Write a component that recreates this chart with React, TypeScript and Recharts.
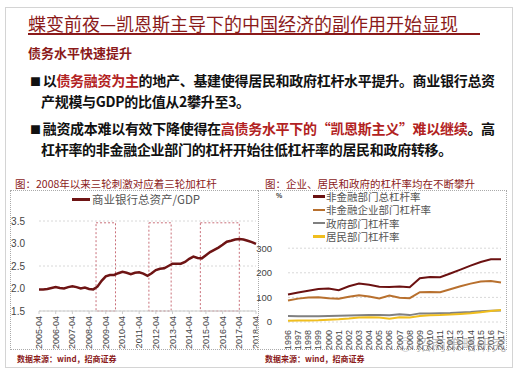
import { LineChart, Line, XAxis, YAxis, CartesianGrid, ReferenceArea, Legend } from "recharts";

// 左图：商业银行总资产/GDP（季度）
const quarters = [
  "2005-04", "2005-07", "2005-10", "2006-01", "2006-04", "2006-07", "2006-10", "2007-01", "2007-04", "2007-07", "2007-10", "2008-01", "2008-04",
  "2008-07", "2008-10", "2009-01", "2009-04", "2009-07", "2009-10", "2010-01", "2010-04", "2010-07", "2010-10", "2011-01", "2011-04", "2011-07",
  "2011-10", "2012-01", "2012-04", "2012-07", "2012-10", "2013-01", "2013-04", "2013-07", "2013-10", "2014-01", "2014-04", "2014-07", "2014-10",
  "2015-01", "2015-04", "2015-07", "2015-10", "2016-01", "2016-04", "2016-07", "2016-10", "2017-01", "2017-04", "2017-07", "2017-10", "2018-01", "2018-04",
];
const assetToGdp = [
  1.98, 1.98, 1.99, 2.01, 2.03, 2.01, 2.0, 2.03, 2.05, 2.03, 2.0, 2.02, 1.99,
  1.98, 2.04, 2.17, 2.27, 2.3, 2.3, 2.34, 2.37, 2.35, 2.32, 2.35, 2.36, 2.33,
  2.28, 2.34, 2.41, 2.44, 2.45, 2.5, 2.55, 2.55, 2.55, 2.59, 2.66, 2.71, 2.68,
  2.67, 2.74, 2.81, 2.86, 2.91, 2.97, 3.04, 3.06, 3.09, 3.1, 3.09, 3.06, 3.03, 2.99,
];
const leftTicks = ["2005-04", "2006-04", "2007-04", "2008-04", "2009-04", "2010-04", "2011-04", "2012-04", "2013-04", "2014-04", "2015-04", "2016-04", "2017-04", "2018-04"];
const leftYTicks = [1.5, 2.0, 2.5, 3.0, 3.5];
// 三轮刺激区间
const stimulusStart = ["2008-09", "2011-11", "2014-12"];
const stimulusEnd = ["2009-11", "2013-03", "2017-04"];
const stimulusTop = 3.46;

// 右图：杠杆率（年度，%）
const years = [1996, 1997, 1998, 1999, 2000, 2001, 2002, 2003, 2004, 2005, 2006, 2007, 2008, 2009, 2010, 2011, 2012, 2013, 2014, 2015, 2016, 2017];
const totalLev = [112, 120, 127, 134, 136, 129, 145, 156, 151, 143, 142, 144, 141, 178, 183, 182, 197, 213, 229, 244, 255, 255];
const corpLev = [87, 95, 100, 101, 97, 95, 103, 109, 104, 96, 108, 99, 97, 121, 122, 121, 133, 145, 156, 165, 167, 161];
const govLev = [24, 23, 23, 23, 24, 25, 26, 27, 28, 28, 27, 31, 28, 35, 35, 36, 37, 39, 41, 44, 46, 47];
const houseLev = [5, 6, 6, 7, 9, 11, 14, 18, 19, 18, 13, 19, 18, 24, 27, 28, 30, 33, 36, 40, 45, 49];
const rightYTicks = [0, 50, 100, 150, 200, 250, 300];

const toNum = (s: string) => {
  const [y, m] = s.split("-").map(Number);
  return y + (m - 1) / 12;
};
const toLabel = (v: number) => {
  const y = Math.floor(v + 1e-6);
  const m = Math.round((v - y) * 12) + 1;
  return `${y}-${String(m).padStart(2, "0")}`;
};

const leftData = quarters.map((q, i) => ({ t: toNum(q), v: assetToGdp[i] }));
const rightData = years.map((y, i) => ({
  year: y,
  total: totalLev[i],
  corp: corpLev[i],
  gov: govLev[i],
  house: houseLev[i],
}));

const CJK = '"Noto Sans CJK SC", sans-serif';
const NUM = '"Liberation Sans", Arial, sans-serif';
const DARK_RED = "#8B1A1A";

const VTick = (props: any) => {
  const { x, y, payload, fmt } = props;
  return (
    <g transform={`translate(${x},${y})`}>
      <text x={0} y={0} dy={3} transform="rotate(-90)" textAnchor="end" fontSize={9} fill="#444" fontFamily={NUM}>
        {fmt(payload.value)}
      </text>
    </g>
  );
};

const LeftLegend = () => (
  <div style={{ display: "flex", alignItems: "center", fontFamily: CJK, fontSize: 11.5, color: "#555", lineHeight: "14px" }}>
    <span style={{ display: "inline-block", width: 18, height: 3, background: "#6E1414", marginRight: 2 }} />
    商业银行总资产/GDP
  </div>
);

const rightSeries = [
  { key: "total", name: "非金融部门总杠杆率", color: "#6B1111" },
  { key: "corp", name: "非金融企业部门杠杆率", color: "#B8702E" },
  { key: "gov", name: "政府部门杠杆率", color: "#808080" },
  { key: "house", name: "居民部门杠杆率", color: "#F0BE1E" },
];

const RightLegend = () => (
  <div style={{ fontFamily: CJK, fontSize: 10.5, color: "#555" }}>
    {rightSeries.map((s) => (
      <div key={s.key} style={{ display: "flex", alignItems: "center", height: 13.3, lineHeight: "13px" }}>
        <span style={{ display: "inline-block", width: 12, height: 2.5, background: s.color, marginRight: 1 }} />
        {s.name}
      </div>
    ))}
  </div>
);

const abs = (left: number, top: number, extra: any = {}) => ({ position: "absolute" as const, left, top, ...extra });

export default function App() {
  return (
    <div style={{ position: "absolute", left: 0, top: 0, width: 519, height: 373, background: "#fff", overflow: "hidden" }}>
      {/* 外框 */}
      <div style={abs(5, 7, { width: 506, height: 359, border: "1px solid #d4d4d4" })} />

      {/* 标题 */}
      <div style={abs(28, 11, { fontFamily: CJK, fontSize: 18, color: DARK_RED, lineHeight: "24px", whiteSpace: "nowrap" })}>
        蝶变前夜—凯恩斯主导下的中国经济的副作用开始显现
      </div>
      <div style={abs(28, 33, { width: 452, height: 1.5, background: DARK_RED })} />
      <div style={abs(28, 44, { fontFamily: CJK, fontSize: 13, fontWeight: 700, color: DARK_RED, lineHeight: "18px" })}>
        债务水平快速提升
      </div>

      {/* 要点 */}
      <div style={abs(30, 70, { fontFamily: CJK, fontSize: 14, fontWeight: 700, color: "#111", lineHeight: "20px", letterSpacing: -0.3, whiteSpace: "nowrap" })}>
        <div>
          <span style={{ fontSize: 11, marginRight: 2 }}>■</span>以<span style={{ color: "#B22222" }}>债务融资为主</span>的地产、基建使得居民和政府杠杆水平提升。商业银行总资
        </div>
        <div style={{ paddingLeft: 11 }}>产规模与GDP的比值从2攀升至3。</div>
        <div style={{ marginTop: 7 }}>
          <span style={{ fontSize: 11, marginRight: 2 }}>■</span>融资成本难以有效下降使得在<span style={{ color: "#B22222" }}>高债务水平下的“凯恩斯主义”难以继续</span>。高
        </div>
        <div style={{ paddingLeft: 11 }}>杠杆率的非金融企业部门的杠杆开始往低杠杆率的居民和政府转移。</div>
      </div>

      {/* 图标题 */}
      <div style={abs(15, 177, { fontFamily: CJK, fontSize: 10.5, color: DARK_RED, lineHeight: "13px", whiteSpace: "nowrap" })}>
        图：2008年以来三轮刺激对应着三轮加杠杆
      </div>
      <div style={abs(265, 177, { fontFamily: CJK, fontSize: 10.5, color: DARK_RED, lineHeight: "13px", whiteSpace: "nowrap" })}>
        图：企业、居民和政府的杠杆率均在不断攀升
      </div>

      {/* 图框 */}
      <div style={abs(10, 190, { width: 248, height: 160, borderTop: "1px dotted #aaa", borderLeft: "1px dotted #aaa", borderBottom: "1px dotted #aaa", boxSizing: "border-box" })} />
      <div style={abs(258, 190, { width: 249, height: 160, border: "1px dotted #aaa", boxSizing: "border-box" })} />

      {/* 左图 */}
      <div style={abs(10, 190)}>
        <LineChart width={248} height={161} data={leftData} margin={{ top: 17, right: 2, left: 0, bottom: 0 }}>
          <CartesianGrid vertical={false} stroke="#d8d8d8" strokeDasharray="2 2" />
          <XAxis
            dataKey="t"
            type="number"
            domain={[toNum(leftTicks[0]), toNum(leftTicks[leftTicks.length - 1])]}
            ticks={leftTicks.map(toNum)}
            interval={0}
            height={40}
            stroke="#ccc"
            tickSize={3}
            tick={<VTick fmt={toLabel} />}
          />
          <YAxis
            type="number"
            domain={[1.5, 3.5]}
            ticks={leftYTicks}
            width={29}
            axisLine={false}
            tickLine={false}
            tickMargin={8}
            tick={{ fontSize: 10, fill: "#444", fontFamily: NUM }}
            tickFormatter={(v: number) => v.toFixed(1)}
          />
          {stimulusStart.map((s, i) => (
            <ReferenceArea
              key={s}
              x1={toNum(s)}
              x2={toNum(stimulusEnd[i])}
              y1={1.5}
              y2={stimulusTop}
              fill="none"
              stroke="#C9707A"
              strokeDasharray="2 2"
              ifOverflow="visible"
            />
          ))}
          <Legend verticalAlign="top" content={<LeftLegend />} wrapperStyle={{ top: 2, left: 62, width: "auto" }} />
          <Line type="linear" dataKey="v" stroke="#6E1414" strokeWidth={2.5} dot={false} isAnimationActive={false} />
        </LineChart>
      </div>

      {/* 右图 */}
      <div style={abs(255, 190)}>
        <LineChart width={252} height={161} data={rightData} margin={{ top: 5, right: 6, left: 0, bottom: 0 }}>
          <CartesianGrid vertical={false} stroke="#d8d8d8" strokeDasharray="2 2" />
          <XAxis
            dataKey="year"
            type="number"
            domain={[years[0], years[years.length - 1]]}
            ticks={years}
            interval={0}
            height={29}
            axisLine={false}
            tickLine={false}
            tickMargin={2}
            tick={<VTick fmt={(v: number) => String(v)} />}
          />
          <YAxis
            type="number"
            domain={[0, 300]}
            ticks={rightYTicks}
            width={33}
            axisLine={false}
            tickLine={false}
            tickMargin={10}
            tick={{ fontSize: 9.5, fill: "#444", fontFamily: NUM }}
          />
          <Legend layout="vertical" verticalAlign="top" content={<RightLegend />} wrapperStyle={{ top: 0, left: 58, width: "auto" }} />
          {rightSeries.map((s) => (
            <Line key={s.key} type="linear" dataKey={s.key} name={s.name} stroke={s.color} strokeWidth={2} dot={false} isAnimationActive={false} />
          ))}
        </LineChart>
      </div>
      <div style={abs(276, 191, { fontFamily: NUM, fontSize: 7, fontWeight: 700, color: "#444", lineHeight: "9px" })}>%</div>

      {/* 数据来源 */}
      <div style={abs(17, 353, { fontFamily: CJK, fontSize: 8, fontWeight: 700, color: DARK_RED, lineHeight: "12px" })}>
        数据来源：wind，招商证券
      </div>
      <div style={abs(265, 353, { fontFamily: CJK, fontSize: 8, fontWeight: 700, color: DARK_RED, lineHeight: "12px" })}>
        数据来源：wind，招商证券
      </div>

      {/* 水印 */}
      <div style={abs(398, 333, { fontFamily: CJK, fontSize: 15, color: "rgba(110,110,110,0.45)", whiteSpace: "nowrap" })}>
        ◎ 招商策略研究
      </div>
    </div>
  );
}
